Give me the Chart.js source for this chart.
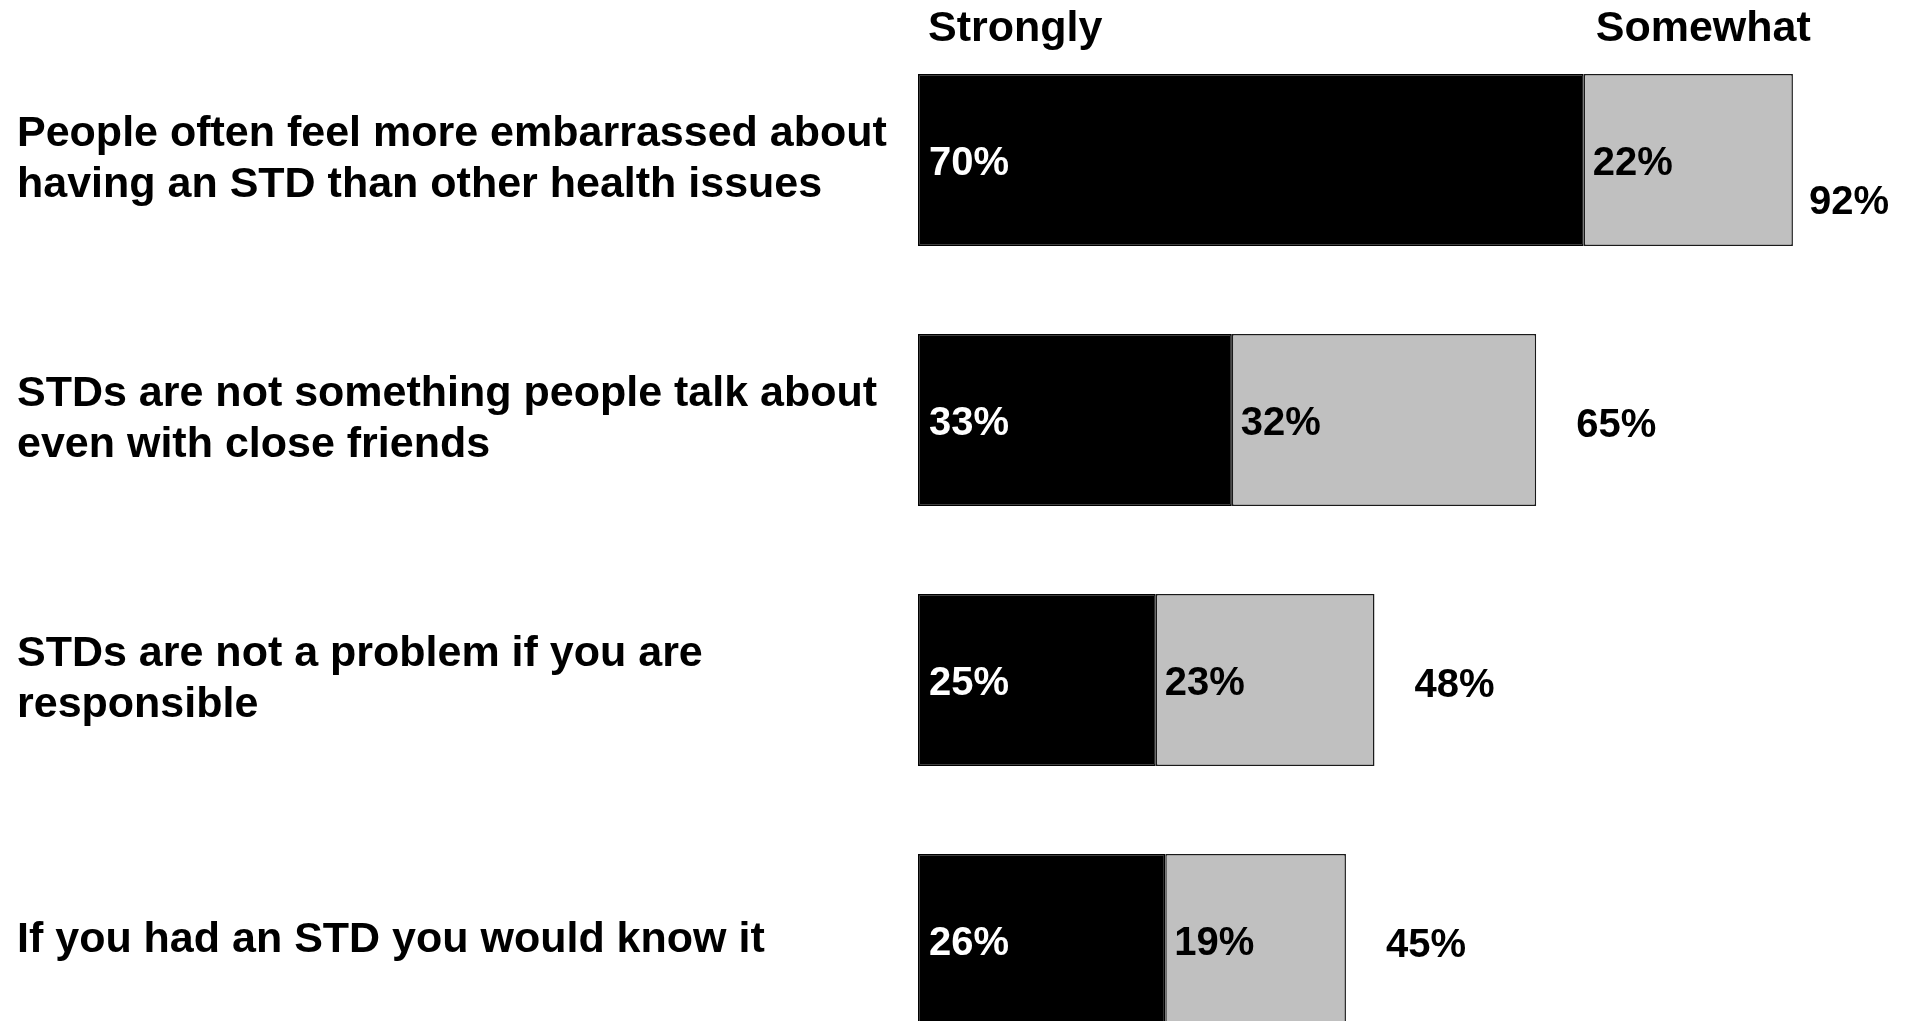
<!DOCTYPE html>
<html>
<head>
<meta charset="utf-8">
<script src="https://cdn.jsdelivr.net/npm/chart.js@4.4.0/dist/chart.umd.min.js"></script>
<style>
    html, body { margin: 0; padding: 0; background: #fff; overflow: hidden; }
    #wrap { position: relative; width: 1909px; height: 1070px; }
</style>
</head>
<body>
<div id="wrap"><canvas id="chart"></canvas></div>
<script>
// Statements (y categories), one array of lines each
const statements = [
    ['People often feel more embarrassed about', 'having an STD than other health issues'],
    ['STDs are not something people talk about', 'even with close friends'],
    ['STDs are not a problem if you are', 'responsible'],
    ['If you had an STD you would know it']
];
const seriesNames = ['Strongly', 'Somewhat'];
const strongly = [70, 33, 25, 26];
const somewhat = [22, 32, 23, 19];

const FONT_TEXT = 'bold 43px "Liberation Sans", Arial, sans-serif';
const FONT_VALUE = 'bold 40px "Liberation Sans", Arial, sans-serif';

// Draws the statement text, the in-bar values, the totals and the column headers
const labelPlugin = {
    id: 'labels',
    afterDatasetsDraw(chart) {
        const ctx = chart.ctx;
        const m0 = chart.getDatasetMeta(0);
        const m1 = chart.getDatasetMeta(1);
        ctx.save();
        ctx.textBaseline = 'middle';
        ctx.textAlign = 'left';

        // column headers above the first bar
        ctx.font = FONT_TEXT;
        ctx.fillStyle = '#000';
        ctx.fillText(seriesNames[0], m0.data[0].base + 10, 29);
        ctx.fillText(seriesNames[1], m1.data[0].base + 12, 29);

        statements.forEach((lines, i) => {
            const b0 = m0.data[i];
            const b1 = m1.data[i];
            const cy = b0.y;

            // statement text on the left
            ctx.font = FONT_TEXT;
            ctx.fillStyle = '#000';
            const lh = 51;
            lines.forEach((ln, k) => {
                ctx.fillText(ln, 17, cy + (k - (lines.length - 1) / 2) * lh);
            });

            // values inside the segments
            ctx.font = FONT_VALUE;
            ctx.fillStyle = '#fff';
            ctx.fillText(strongly[i] + '%', b0.base + 11, cy + 4);
            ctx.fillStyle = '#000';
            ctx.fillText(somewhat[i] + '%', b1.base + 9, cy + 4);

            // total to the right of the bar
            const total = (strongly[i] + somewhat[i]) + '%';
            const w = ctx.measureText(total).width;
            let tx = b1.x + 40;
            let ty = cy + 6;
            const limit = chart.width - 20;
            if (tx + w > limit) {
                tx = limit - w;
                ty = cy + b1.height / 4;
            }
            ctx.fillText(total, tx, ty);
        });
        ctx.restore();
    }
};

new Chart(document.getElementById('chart'), {
    type: 'bar',
    data: {
        labels: statements,
        datasets: [
            {
                label: seriesNames[0],
                data: strongly,
                backgroundColor: '#000000',
                borderColor: '#000000',
                borderWidth: 1.5,
                borderSkipped: false
            },
            {
                label: seriesNames[1],
                data: somewhat,
                backgroundColor: '#c0c0c0',
                borderColor: '#1a1a1a',
                borderWidth: 1.5,
                borderSkipped: false
            }
        ]
    },
    options: {
        indexAxis: 'y',
        responsive: true,
        maintainAspectRatio: false,
        animation: false,
        layout: { padding: { left: 918, right: 40, top: 30, bottom: 0 } },
        categoryPercentage: 1,
        barPercentage: 0.662,
        scales: {
            x: { stacked: true, min: 0, max: 100, display: false },
            y: { stacked: true, display: false }
        },
        plugins: {
            legend: { display: false },
            tooltip: { enabled: false }
        }
    },
    plugins: [labelPlugin]
});
</script>
</body>
</html>
